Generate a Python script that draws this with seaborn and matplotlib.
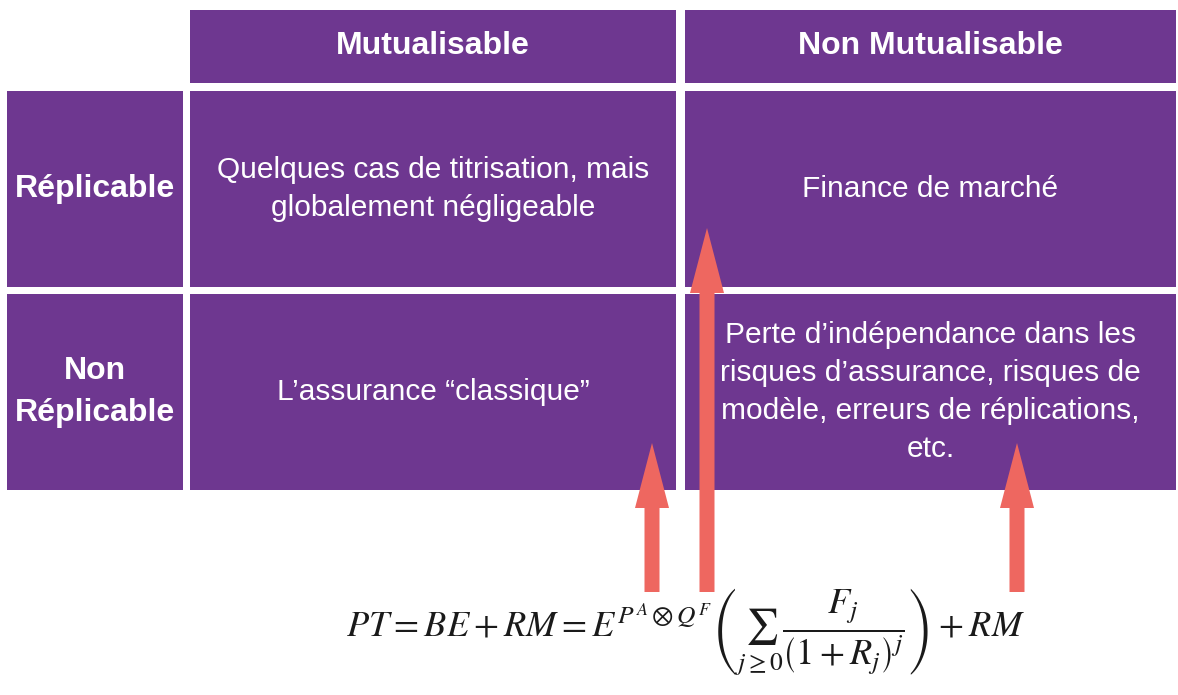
import matplotlib.pyplot as plt
import matplotlib.patches as mpatches
import seaborn as sns

# Table content
col_headers = ["Mutualisable", "Non Mutualisable"]
row_headers = ["Réplicable", "Non\nRéplicable"]
cell_texts = [
    ["Quelques cas de titrisation, mais\nglobalement négligeable", "Finance de marché"],
    ["L\u2019assurance \u201cclassique\u201d",
     "Perte d\u2019indépendance dans les\nrisques d\u2019assurance, risques de\nmodèle, erreurs de réplications,\netc."],
]

# Arrows pointing from the formula terms to the cells (x, tail y, tip y)
arrow_x = [652, 707, 1017]
arrow_tail = [592, 592, 592]
arrow_tip = [443, 228, 443]

formula = (r"$PT = BE + RM = E^{P^A \otimes Q^F}"
           r"\left( \sum_{j \geq 0} \dfrac{F_j}{\left(1 + R_j\right)^j} \right) + RM$")

PURPLE = "#6E3790"
ARROW = "#EE6760"

sns.set_theme(style="white")
plt.rcParams["mathtext.fontset"] = "stix"

fig = plt.figure(figsize=(11.78, 6.95), dpi=100)
fig.patch.set_facecolor("white")
ax = fig.add_axes([0, 0, 1, 1])
ax.set_xlim(0, 1178)
ax.set_ylim(695, 0)
ax.axis("off")

# cell layout in pixels
col_edges = [(7, 183), (190, 676), (685, 1176)]
row_edges = [(10, 83), (91, 287), (294, 490)]

font = ["Liberation Sans", "DejaVu Sans"]

for i, (y0, y1) in enumerate(row_edges):
    for j, (x0, x1) in enumerate(col_edges):
        if i == 0 and j == 0:
            continue
        ax.add_patch(mpatches.Rectangle((x0, y0), x1 - x0, y1 - y0,
                                        facecolor=PURPLE, edgecolor="none", zorder=1))
        cx, cy = (x0 + x1) / 2, (y0 + y1) / 2
        if i == 0:
            txt, wt, fs, ls = col_headers[j - 1], "bold", 23, 1.2
        elif j == 0:
            txt, wt, fs, ls = row_headers[i - 1], "bold", 23, 1.55
        else:
            txt, wt, fs, ls = cell_texts[i - 1][j - 1], "normal", 21.5, 1.45
        ax.text(cx, cy, txt, ha="center", va="center", color="white",
                family=font, fontweight=wt, fontsize=fs, linespacing=ls, zorder=2)

for x, y0, y1 in zip(arrow_x, arrow_tail, arrow_tip):
    ax.arrow(x, y0, 0, y1 - y0, width=15, head_width=34, head_length=65,
             length_includes_head=True, facecolor=ARROW, edgecolor="none", zorder=3)

ax.text(685, 638, formula, ha="center", va="baseline", fontsize=26.2, color="#1a1a1a", zorder=3)

plt.savefig("out.png", dpi=100, facecolor="white")
